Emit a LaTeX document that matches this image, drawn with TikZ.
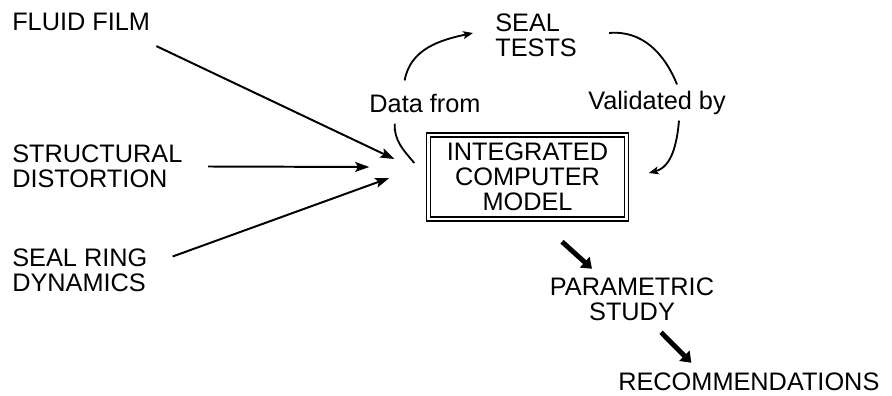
\documentclass[tikz,border=0pt]{standalone}
\usepackage{fontspec}
\setmainfont{Liberation Sans}
\usepackage{tikz}
\usetikzlibrary{arrows.meta}

\begin{document}
\begin{tikzpicture}[x=0.025cm, y=0.025cm, font=\fontsize{18}{17.8}\selectfont,
    txt/.style={inner sep=0pt},
    feed/.style={line width=1.4pt, -{Stealth[length=10pt, width=7pt, inset=2pt]}},
    loopline/.style={line width=1.3pt},
    loophead/.style={line width=1.3pt, -{Stealth[length=7pt, width=5.5pt, inset=1.5pt]}},
    bigarrow/.style={line width=3.5pt, -{Triangle[length=7pt, width=10pt]}}]
  \useasboundingbox (0,0) rectangle (892,395);

  % inputs on the left
  \node[txt, anchor=west] (fluid) at (12,373) {FLUID FILM};
  \node[txt, anchor=west, align=left] (struct) at (12,228.5) {STRUCTURAL\\DISTORTION};
  \node[txt, anchor=west, align=left] (ring) at (12,124.5) {SEAL RING\\DYNAMICS};

  % the model and the test loop
  \node[draw, double, double distance=1.8pt, line width=1pt, minimum width=4.95cm,
        minimum height=2.1cm, inner sep=0pt, align=center] (model) at (527.5,218)
    {INTEGRATED\\COMPUTER\\MODEL};
  \node[txt, anchor=west, align=left] (tests) at (495,360) {SEAL\\TESTS};
  \node[txt] (datafrom) at (425,292) {Data from};
  \node[txt] (validated) at (657,292.5) {Validated by};

  % outputs
  \node[txt, align=center] (param) at (632,95.5) {PARAMETRIC\\STUDY};
  \node[txt, anchor=west] (recom) at (618,13) {RECOMMENDATIONS};

  \draw[feed] (fluid.south east) ++(6,-15) -- ([shift={(-33.5,18)}]model.west);
  \draw[feed] ([xshift=18]struct.east) -- ([shift={(-58.5,10)}]model.west);
  \draw[feed] (ring.east) ++(25,14) -- ([shift={(-38.5,-1)}]model.west);

  \draw[loopline] ([shift={(-13.5,14)}]model.west) to[out=130, in=-92] ([shift={(25.5,-11)}]datafrom.south west);
  \draw[loophead] ([shift={(35.5,13)}]datafrom.north west) to[out=80, in=192] ([shift={(-22,2)}]tests.west);
  \draw[loopline] ([shift={(32,2)}]tests.east) to[out=5, in=112] ([shift={(89,6)}]validated.north west);
  \draw[loophead] ([shift={(91,-6)}]validated.south west) to[out=-95, in=15] ([shift={(21.5,4)}]model.east);

  \draw[bigarrow] ([shift={(34.5,-22)}]model.south) -- ([shift={(-40,9)}]param.north);
  \draw[bigarrow] ([shift={(29,-11)}]param.south) -- ([shift={(-57.5,10)}]recom.north);
\end{tikzpicture}
\end{document}
